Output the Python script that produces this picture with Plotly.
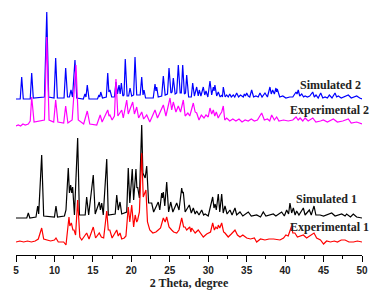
import plotly.graph_objects as go

# ---- data: (2-theta, intensity above own baseline) ----
sim2_points = [(5.0,1),(5.55,1),(5.74,23),(5.95,1),(6.85,1),(7.04,27),(7.25,2),(8.7,3),(9.0,88),(9.25,3),(9.95,2),(10.16,42),(10.38,2),(11.25,2),(11.46,32),(11.7,3),(11.95,3),(12.15,10),(12.35,3),(12.67,40),(12.9,2),(13.75,1),(13.97,6),(14.1,3),(14.27,15),(14.5,1),(15.6,1),(15.79,5),(15.9,3),(16.02,8),(16.25,2),(16.75,3),(16.93,27),(17.08,8),(17.22,10),(17.45,3),(17.8,3),(18.0,18),(18.2,6),(18.4,15),(18.55,6),(18.7,17),(18.9,4),(19.05,5),(19.21,41),(19.45,4),(19.65,4),(19.83,12),(20.05,4),(20.3,5),(20.48,43),(20.7,5),(21.15,5),(21.35,23),(21.52,5),(21.65,10),(21.85,2),(22.85,2),(23.08,16),(23.2,9),(23.3,13),(23.5,3),(23.95,4),(24.16,24),(24.4,5),(24.7,6),(24.9,32),(25.15,7),(25.3,8),(25.46,22),(25.7,6),(25.9,7),(26.11,35),(26.35,7),(26.5,7),(26.68,35),(26.9,6),(27.05,7),(27.2,25),(27.45,3),(27.8,3),(27.98,17),(28.2,4),(28.5,13),(28.7,4),(28.84,10),(29.05,4),(29.36,13),(29.55,5),(29.71,9),(29.95,3),(30.23,19),(30.45,5),(30.66,13),(30.76,9),(30.87,15),(31.1,4),(31.31,8),(31.55,3),(31.75,5),(31.85,3),(31.96,13),(32.2,3),(32.4,5),(32.6,3),(32.8,6),(33.0,3),(33.26,5),(33.45,3),(33.7,7),(33.95,3),(34.2,5),(34.56,3),(34.7,6),(34.85,4),(35.0,7),(35.2,4),(35.4,3),(35.65,10),(35.9,3),(36.2,4),(36.5,3),(36.73,7),(37.0,3),(37.38,7),(37.7,3),(38.03,13),(38.2,6),(38.38,10),(38.6,6),(38.81,12),(38.9,8),(38.98,11),(39.3,3),(39.7,4),(40.1,2),(40.6,3),(41.0,3),(41.42,8),(41.55,6),(41.71,10),(41.9,4),(42.16,6),(42.4,3),(42.6,4),(42.9,3),(43.2,4),(43.59,8),(43.8,3),(44.02,5),(44.3,2),(44.63,7),(44.9,2),(45.19,3),(45.5,2),(45.75,5),(46.1,2),(46.49,7),(46.7,3),(46.92,4),(47.3,2),(47.7,3),(48.22,5),(48.6,2),(49.0,3),(49.31,4),(49.7,2),(50.0,1)]

exp2_points = [(5.0,0),(5.3,1),(5.6,0),(5.9,2),(6.2,1),(6.6,2),(6.85,5),(7.04,29),(7.35,4),(8.7,6),(9.0,89),(9.3,6),(9.9,4),(10.16,26),(10.45,4),(11.2,3),(11.46,20),(11.75,3),(12.3,6),(12.8,61),(13.1,6),(13.8,2),(14.27,15),(14.6,2),(15.5,1),(15.95,11),(16.2,4),(16.93,16),(17.1,10),(17.22,11),(17.5,6),(17.8,10),(18.0,47),(18.25,10),(18.75,16),(18.95,8),(19.4,26),(19.6,12),(20.18,24),(20.4,12),(20.7,19),(20.95,8),(21.35,14),(21.6,7),(22.0,11),(22.4,4),(23.08,16),(23.4,8),(24.16,21),(24.5,10),(25.03,28),(25.25,16),(25.46,24),(25.8,14),(26.11,20),(26.4,14),(26.76,26),(27.0,10),(27.35,13),(27.6,10),(28.06,23),(28.3,14),(28.5,13),(28.8,6),(29.1,11),(29.45,8),(29.71,11),(30.0,9),(30.23,18),(30.45,12),(30.66,16),(30.85,10),(31.05,14),(31.3,8),(31.5,11),(31.75,14),(31.96,20),(32.15,6),(32.4,8),(32.8,5),(33.2,7),(33.6,5),(34.0,7),(34.4,4),(34.8,6),(35.2,5),(35.6,7),(36.0,5),(36.4,6),(36.95,13),(37.3,6),(37.7,7),(38.0,5),(38.25,11),(38.6,6),(38.9,9),(39.2,5),(39.8,6),(40.4,5),(41.0,6),(41.42,9),(41.7,6),(41.95,8),(42.3,5),(42.6,8),(43.0,5),(43.6,8),(44.0,4),(44.6,5),(44.97,6),(45.5,4),(46.27,7),(46.8,4),(47.5,5),(48.22,7),(48.6,3),(49.3,4),(50.0,2)]

sim1_points = [(5.0,0),(6.4,0),(6.6,5),(6.8,0),(7.6,1),(7.82,12),(7.95,4),(8.34,63),(8.6,2),(10.0,1),(10.2,12),(10.4,1),(11.3,2),(11.5,8),(11.8,50),(11.95,25),(12.11,33),(12.25,25),(12.37,31),(12.6,3),(13.02,80),(13.25,3),(14.0,3),(14.19,21),(14.45,3),(15.05,43),(15.3,4),(15.83,16),(15.98,8),(16.15,15),(16.35,3),(16.8,59),(17.0,3),(17.9,4),(18.1,23),(18.3,8),(18.53,16),(18.75,4),(19.4,6),(19.6,50),(19.8,15),(20.12,49),(20.3,18),(20.6,49),(20.72,30),(20.82,31),(21.05,20),(21.35,93),(21.5,45),(21.65,43),(21.8,40),(22.0,52),(22.25,15),(22.65,15),(22.9,6),(23.5,16),(23.7,8),(23.95,25),(24.05,20),(24.16,26),(24.35,12),(24.6,36),(24.85,6),(25.12,16),(25.4,6),(25.9,15),(26.2,8),(26.55,30),(26.65,25),(26.76,26),(27.0,6),(27.54,13),(27.8,5),(28.06,10),(28.3,4),(28.5,7),(28.8,3),(29.15,8),(29.4,3),(29.6,4),(30.0,2),(30.58,21),(30.75,10),(30.9,14),(31.05,8),(31.31,24),(31.5,6),(31.75,24),(31.95,5),(32.18,12),(32.45,4),(32.83,8),(33.1,3),(33.48,10),(33.7,3),(34.13,6),(34.5,2),(35.21,6),(35.6,2),(36.3,3),(36.8,1),(37.16,6),(37.5,2),(38.46,4),(38.8,2),(39.55,6),(39.9,2),(40.2,8),(40.45,4),(40.63,15),(40.85,5),(41.07,10),(41.3,3),(41.5,7),(41.8,3),(42.37,10),(42.6,3),(43.15,8),(43.4,3),(43.76,12),(44.0,3),(44.54,3),(45.0,2),(46.06,5),(46.5,2),(47.36,4),(47.8,2),(48.0,4),(48.5,1),(48.87,4),(49.3,1),(50.0,0)]

exp1_points = [(5.0,0),(5.5,1),(6.0,0),(6.5,1),(7.0,0),(7.5,1),(7.9,3),(8.34,14),(8.6,3),(9.5,1),(10.0,2),(10.2,4),(10.5,0),(11.2,0),(11.5,-3),(11.89,25),(12.0,16),(12.2,19),(12.4,12),(12.55,12),(12.75,7),(13.02,42),(13.3,5),(13.55,2),(14.19,9),(14.5,3),(15.05,15),(15.35,4),(15.83,9),(16.1,5),(16.4,4),(16.8,31),(17.0,12),(17.2,12),(17.5,4),(18.1,12),(18.3,6),(18.53,9),(18.75,3),(19.08,4),(19.3,6),(19.6,35),(19.8,20),(20.05,37),(20.3,15),(20.5,27),(20.7,20),(20.82,22),(21.05,30),(21.35,89),(21.55,45),(21.9,52),(22.1,20),(22.4,12),(22.8,9),(23.2,10),(23.5,12),(23.8,14),(24.16,24),(24.4,20),(24.6,25),(24.9,15),(25.25,12),(25.5,10),(25.9,9),(26.2,12),(26.55,24),(26.8,15),(26.98,15),(27.2,12),(27.6,15),(27.75,10),(27.85,14),(28.3,9),(28.7,12),(29.1,7),(29.36,5),(29.8,8),(30.0,9),(30.3,10),(30.58,19),(30.8,12),(31.0,15),(31.2,13),(31.31,17),(31.5,14),(31.75,19),(32.0,10),(32.18,9),(32.6,5),(33.0,8),(33.48,12),(33.8,7),(34.13,5),(34.5,7),(35.0,4),(35.5,3),(36.0,4),(36.3,0),(36.8,3),(37.38,2),(37.9,3),(38.5,3),(39.0,2),(39.33,2),(39.8,4),(40.1,7),(40.4,6),(40.85,16),(41.0,9),(41.27,9),(41.6,5),(42.0,6),(42.37,7),(42.8,4),(43.2,6),(43.76,9),(44.1,4),(44.6,2),(45.0,-2),(45.4,1),(45.9,0),(46.4,1),(46.8,0),(47.3,2),(47.8,2),(48.3,0),(48.9,0),(49.4,1),(50.0,0)]

series_names = ["Simulated 2", "Experimental 2", "Simulated 1", "Experimental 1"]
series_offsets = [155, 129, 37, 13]          # vertical stacking offsets
series_colors = ["#0000ff", "#ff00ff", "#000000", "#ff0000"]
series_data = [sim2_points, exp2_points, sim1_points, exp1_points]

# label anchors (right edge), x in paper fraction, y in data units
label_x = [1.003, 1.025, 0.99, 1.025]
label_y = [170, 145, 56, 28]

x_ticks = [5, 10, 15, 20, 25, 30, 35, 40, 45, 50]

fig = go.Figure()
for name, pts, off, col in zip(series_names, series_data, series_offsets, series_colors):
    xs = [p[0] for p in pts]
    ys = [p[1] + off for p in pts]
    fig.add_trace(go.Scatter(x=xs, y=ys, mode="lines", name=name, hoverinfo="skip",
                             line=dict(color=col, width=1.2), showlegend=False))

for name, lx, ly in zip(series_names, label_x, label_y):
    fig.add_annotation(x=lx, xref="paper", y=ly, yref="y", text=name, showarrow=False,
                       xanchor="right", yanchor="middle",
                       font=dict(family="Liberation Serif", size=12, color="#222", weight="bold"))

fig.update_layout(
    width=387, height=295,
    margin=dict(l=16, r=25, t=0, b=40),
    paper_bgcolor="white", plot_bgcolor="white",
    xaxis=dict(range=[5, 50], tickvals=x_ticks, ticktext=[str(v) for v in x_ticks],
               showline=True, linecolor="black", linewidth=1,
               ticks="outside", ticklen=6, tickwidth=1, tickcolor="black",
               minor=dict(ticks="outside", ticklen=3, tickcolor="black", dtick=2.5, tick0=5),
               showgrid=False, zeroline=False,
               tickfont=dict(family="Liberation Sans", size=10, color="#222", weight="bold"),
               title=dict(text="2 Theta, degree", standoff=2,
                          font=dict(family="Liberation Serif", size=12, color="#222", weight="bold"))),
    yaxis=dict(range=[0, 255], visible=False),
)

fig.write_html("out.html", config={"displayModeBar": False, "staticPlot": True},
               post_script="document.body.style.margin='0';")
